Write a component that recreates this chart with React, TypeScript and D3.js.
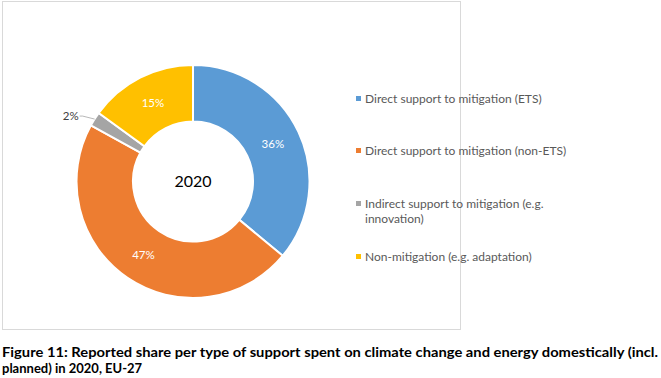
import React from "react";
import * as d3 from "d3";

const categories = [
  "Direct support to mitigation (ETS)",
  "Direct support to mitigation (non-ETS)",
  "Indirect support to mitigation (e.g. innovation)",
  "Non-mitigation (e.g. adaptation)",
];
const legendLines = [
  ["Direct support to mitigation (ETS)"],
  ["Direct support to mitigation (non-ETS)"],
  ["Indirect support to mitigation (e.g.", "innovation)"],
  ["Non-mitigation (e.g. adaptation)"],
];
const values = [36, 47, 2, 15];
const colors = ["#5B9BD5", "#ED7D31", "#A5A5A5", "#FFC000"];
const centerLabel = "2020";
const captionLine1 = "Figure 11: Reported share per type of support spent on climate change and energy domestically (incl.";
const captionLine2 = "planned) in 2020, EU-27";

const FONT = "Lato, 'Open Sans', sans-serif";

export default function App() {
  const W = 661, H = 378;
  const cx = 193, cy = 181.5, rOuter = 116.5, rInner = 60;
  const pie = d3.pie<number>().sort(null).value((d) => d)(values);
  const arc = d3.arc<d3.PieArcDatum<number>>().innerRadius(rInner).outerRadius(rOuter);
  const labelArc = d3.arc<d3.PieArcDatum<number>>().innerRadius((rInner + rOuter) / 2).outerRadius((rInner + rOuter) / 2);
  const legendY = [99, 151, 204, 257];

  return (
    <svg width={W} height={H} style={{ position: "absolute", left: 0, top: 0 }} fontFamily={FONT}>
      <rect x={0} y={0} width={W} height={H} fill="#fff" />
      <rect x={2.5} y={1.5} width={458} height={328} fill="#fff" stroke="#d9d9d9" strokeWidth={1} />
      <g transform={`translate(${cx},${cy})`}>
        {pie.map((p, i) => (
          <path key={i} d={arc(p) || ""} fill={colors[i]} stroke="#fff" strokeWidth={2} />
        ))}
        {pie.map((p, i) => {
          if (p.value < 5) {
            const mid = (p.startAngle + p.endAngle) / 2;
            const ex = Math.sin(mid) * rOuter, ey = -Math.cos(mid) * rOuter;
            const lx = ex - 15, ly = ey - 3;
            return (
              <g key={"l" + i}>
                <polyline points={`${ex},${ey} ${lx + 3},${ly} ${lx},${ly}`} fill="none" stroke="#a6a6a6" strokeWidth={0.8} />
                <text x={lx - 1} y={ly} dy="0.35em" textAnchor="end" fontSize={11.5} fill="#404040">{p.value}%</text>
              </g>
            );
          }
          const [x, y] = labelArc.centroid(p);
          return (
            <text key={"l" + i} x={x} y={y} dy="0.35em" textAnchor="middle" fontSize={11.5} fill="#fff">{p.value}%</text>
          );
        })}
        <text x={0} y={0} dy="0.35em" textAnchor="middle" fontSize={16} fill="#000">{centerLabel}</text>
      </g>
      <g>
        {categories.map((c, i) => (
          <g key={c}>
            <rect x={356} y={legendY[i] - 3} width={5} height={5} fill={colors[i]} />
            {legendLines[i].map((t, j) => (
              <text key={j} x={365} y={legendY[i] + j * 15} dy="0.35em" fontSize={12} fill="#595959">{t}</text>
            ))}
          </g>
        ))}
      </g>
      <text x={2} y={357} fontSize={13} fontWeight="bold" fill="#000" textLength={656} lengthAdjust="spacingAndGlyphs">{captionLine1}</text>
      <text x={2} y={373} fontSize={13} fontWeight="bold" fill="#000">{captionLine2}</text>
    </svg>
  );
}
